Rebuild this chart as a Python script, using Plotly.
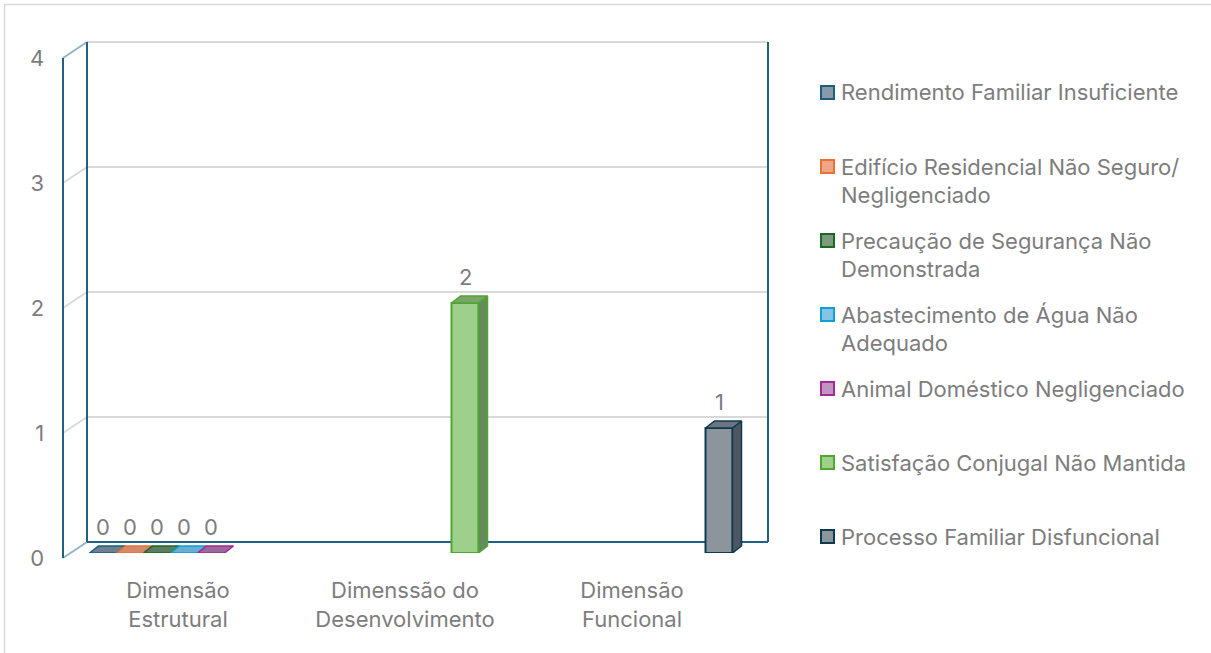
import plotly.graph_objects as go

# ---- data -------------------------------------------------------------
categories = ["Dimensão<br>Estrutural", "Dimenssão do<br>Desenvolvimento", "Dimensão<br>Funcional"]

series_names = [
    "Rendimento Familiar Insuficiente",
    "Edifício Residencial Não Seguro/<br>Negligenciado",
    "Precaução de Segurança Não<br>Demonstrada",
    "Abastecimento de Água Não<br>Adequado",
    "Animal Doméstico Negligenciado",
    "Satisfação Conjugal Não Mantida",
    "Processo Familiar Disfuncional",
]

# values per series, one entry per category (None = series not present there)
rendimento = [0, None, None]
edificio = [0, None, None]
precaucao = [0, None, None]
abastecimento = [0, None, None]
animal = [0, None, None]
satisfacao = [None, 2, None]
processo = [None, None, 1]

series_values = [rendimento, edificio, precaucao, abastecimento, animal, satisfacao, processo]

y_ticks = [0, 1, 2, 3, 4]

# ---- styling ------------------------------------------------------------
front_fill = ["#8799aa", "#f0a587", "#7c9a7e", "#84c4e6", "#c394c0", "#9fd08b", "#8c949c"]
edge_col = ["#1b5e80", "#e97132", "#196b24", "#0f9ed5", "#a02b93", "#4ea72e", "#0e3a50"]
top_fill = ["#6d8191", "#d4896a", "#5e7d60", "#6aaed6", "#9c6a99", "#7ba36a", "#6d7680"]
side_fill = ["#5b6d7c", "#b87255", "#4d6a4f", "#5795bb", "#855a83", "#678c5c", "#4e5761"]

TEXT = "#7d7d7d"
GRID = "#d9d9d9"
WALL = "#1f6183"
FONT = "Inter"
FS = 22

W, H = 1211, 653


def px(x):
    return x / W


def py(y):
    return 1 - y / H


n_series = len(series_names)
group_w = 189 / 227          # share of a category occupied by the bar group
bar_w = group_w / n_series
dx = 9 / 227                 # depth offset of the 3-D faces (x data units)
dy = 7 / 125                 # depth offset of the 3-D faces (y data units)

fig = go.Figure()

# front faces
for k, (name, vals) in enumerate(zip(series_names, series_values)):
    xs, ys = [], []
    for c, v in enumerate(vals):
        if v is None:
            continue
        xs.append(c - group_w / 2 + bar_w * (k + 0.5))
        ys.append(v)
    fig.add_trace(go.Bar(
        x=xs, y=ys, width=bar_w, name=name.replace("<br>", " "),
        marker=dict(color=front_fill[k], line=dict(color=edge_col[k], width=2)),
        showlegend=False, hoverinfo="skip",
    ))

# top and side faces, value labels
for k, vals in enumerate(series_values):
    for c, v in enumerate(vals):
        if v is None:
            continue
        xl = c - group_w / 2 + bar_w * k
        xr = xl + bar_w
        if v > 0:
            fig.add_trace(go.Scatter(
                x=[xr, xr, xr + dx, xr + dx, xr], y=[0, v, v + dy, dy, 0],
                fill="toself", fillcolor=side_fill[k], mode="lines",
                line=dict(color=edge_col[k], width=1.5),
                showlegend=False, hoverinfo="skip",
            ))
        fig.add_trace(go.Scatter(
            x=[xl, xr, xr + dx, xl + dx, xl], y=[v, v, v + dy, v + dy, v],
            fill="toself", fillcolor=top_fill[k], mode="lines",
            line=dict(color=edge_col[k], width=1.5),
            showlegend=False, hoverinfo="skip",
        ))
        fig.add_annotation(
            x=xl + bar_w / 2, y=v, xref="x", yref="y", text=str(v),
            showarrow=False, yshift=26, yanchor="middle",
            font=dict(family=FONT, size=FS, color=TEXT),
        )

# axes carrying the category and value tick labels
fig.add_trace(go.Scatter(x=[None], y=[None], xaxis="x2", yaxis="y2",
                         showlegend=False, hoverinfo="skip"))

fig.update_layout(
    width=W, height=H,
    margin=dict(l=0, r=0, t=0, b=0, autoexpand=False),
    paper_bgcolor="white", plot_bgcolor="rgba(0,0,0,0)",
    barmode="overlay", showlegend=False,
    xaxis=dict(domain=[px(70.5), px(751.5)], range=[-0.5, 2.5], visible=False),
    yaxis=dict(domain=[py(553), py(53)], range=[0, 4], visible=False),
    xaxis2=dict(domain=[px(64.5), px(745.5)], range=[-0.5, 2.5], anchor="y2",
                tickvals=list(range(len(categories))), ticktext=categories,
                ticks="outside", ticklen=13, tickcolor="rgba(0,0,0,0)",
                showgrid=False, zeroline=False, showline=False, automargin=False,
                tickfont=dict(family=FONT, size=FS, color=TEXT)),
    yaxis2=dict(domain=[py(558), py(58)], range=[0, 4], anchor="x2",
                tickvals=y_ticks, ticks="outside", ticklen=15,
                tickcolor="rgba(0,0,0,0)", showgrid=False, zeroline=False,
                showline=False, automargin=False,
                tickfont=dict(family=FONT, size=FS, color=TEXT)),
)

shapes = []
# chart outline
shapes.append(dict(type="line", xref="paper", yref="paper", x0=px(4), x1=1, y0=py(4.5), y1=py(4.5),
                   line=dict(color=GRID, width=1.5)))
shapes.append(dict(type="line", xref="paper", yref="paper", x0=px(4.5), x1=px(4.5), y0=py(4), y1=0,
                   line=dict(color=GRID, width=1.5)))

# back wall gridlines and side wall lines
for t in y_ticks:
    yb = 542 - 125 * t
    if t > 0:
        shapes.append(dict(type="line", xref="paper", yref="paper", x0=px(87), x1=px(768),
                           y0=py(yb), y1=py(yb), line=dict(color=GRID, width=2), layer="below"))
    diag_col = "#93b3c7" if t in (0, 4) else GRID
    shapes.append(dict(type="line", xref="paper", yref="paper", x0=px(63), x1=px(87),
                       y0=py(yb + 16), y1=py(yb), line=dict(color=diag_col, width=2), layer="below"))

# wall edges
for (x0, y0, x1, y1) in [(87, 42, 87, 542), (768, 42, 768, 542), (87, 542, 768, 542), (63, 58, 63, 558)]:
    shapes.append(dict(type="line", xref="paper", yref="paper", x0=px(x0), x1=px(x1),
                       y0=py(y0), y1=py(y1), line=dict(color=WALL, width=2), layer="below"))

# legend
row0, row_step, line_step = 92.5, 74, 28
for k, name in enumerate(series_names):
    yc = row0 + row_step * k
    shapes.append(dict(type="rect", xref="paper", yref="paper",
                       x0=px(821), x1=px(834), y0=py(yc - 6.5), y1=py(yc + 6.5),
                       fillcolor=front_fill[k], line=dict(color=edge_col[k], width=2)))
    for j, line in enumerate(name.split("<br>")):
        fig.add_annotation(x=px(839), y=py(yc + line_step * j), xref="paper", yref="paper",
                           text=line, showarrow=False, xanchor="left", yanchor="middle",
                           font=dict(family=FONT, size=FS, color=TEXT))

fig.update_layout(shapes=shapes)

fig.write_html("out.html")
